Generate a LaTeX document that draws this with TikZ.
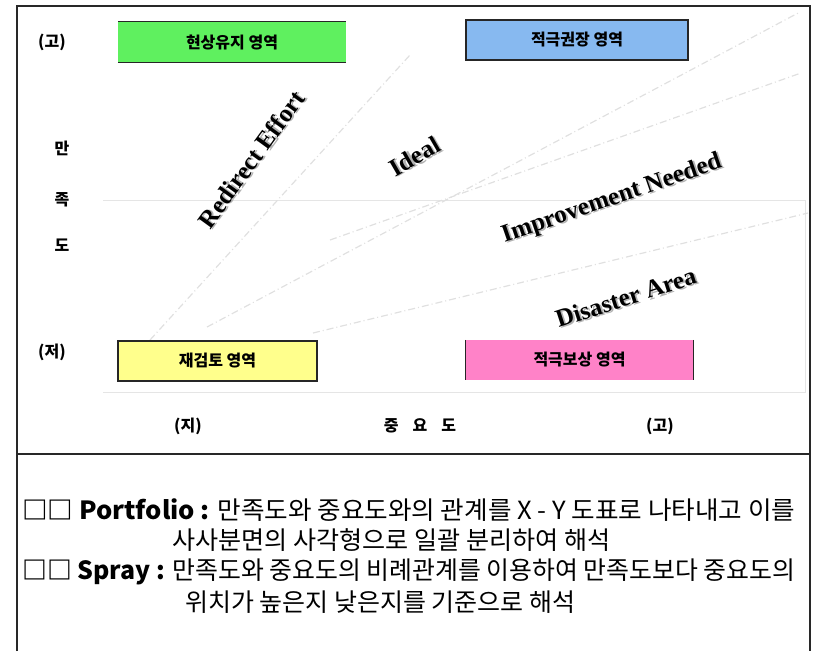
\documentclass[tikz,border=0pt]{standalone}
\usepackage{fontspec}
\usepackage{graphicx}
\setmainfont{Liberation Serif}
\newfontfamily\kr{Noto Sans CJK KR}
\definecolor{zgreen}{RGB}{95,240,95}
\definecolor{zblue}{RGB}{135,185,240}
\definecolor{zyellow}{RGB}{255,255,140}
\definecolor{zpink}{RGB}{255,130,200}
\definecolor{frameline}{RGB}{40,40,40}
\tikzset{
  frame/.style={draw=frameline, line width=1.6pt},
  faintbox/.style={draw=black!10, line width=1pt},
  faintline/.style={draw=black!12, line width=1.2pt, dash pattern=on 7pt off 3pt on 1pt off 3pt},
  zone/.style={inner sep=0pt, minimum height=40pt, font=\kr\bfseries\fontsize{16}{16}\selectfont},
  zoneborder/.style={draw=black!85, line width=1.1pt},
  axislabel/.style={inner sep=0pt, font=\kr\bfseries\fontsize{16}{16}\selectfont},
  region/.style={inner sep=0pt, font=\bfseries\fontsize{25}{25}\selectfont},
  note/.style={inner sep=0pt, anchor=west, font=\kr\fontsize{25}{25}\selectfont},
}
\newcommand{\fitw}[2]{\resizebox{#1}{\height}{#2}}
\newcommand{\shadowed}[1]{\makebox[0pt][l]{\hspace{1.6pt}\raisebox{-1.6pt}{\textcolor{black!30}{#1}}}#1}
\begin{document}
\begin{tikzpicture}[x=1pt,y=-1pt]
\useasboundingbox (0,0) rectangle (816,651);
% faint plot lines
\draw[faintbox] (103,200) -- (805,200) -- (805,392) -- (103,392);
\coordinate (l1a) at (150,340); \coordinate (l1b) at (410,55);
\coordinate (l2a) at (207,327); \coordinate (l2b) at (800,12);
\coordinate (l3a) at (313,333); \coordinate (l3b) at (808,213);
\coordinate (l4a) at (330,240); \coordinate (l4b) at (801,73);
\draw[faintline] (l1a) -- (l1b);
\draw[faintline] (l2a) -- (l2b);
\draw[faintline] (l3a) -- (l3b);
\draw[faintline] (l4a) -- (l4b);
% frame
\coordinate (ftl) at (17,6); \coordinate (ftr) at (810,6);
\coordinate (fbl) at (17,651); \coordinate (fbr) at (810,651);
\coordinate (dl) at (17,454); \coordinate (dr) at (810,454);
\draw[frame] (fbl) -- (ftl) -- (ftr) -- (fbr);
\draw[frame] (dl) -- (dr);
% zone boxes
\node[zone, fill=zgreen, minimum width=228pt] (g) at (232,42) {현상유지 영역};
\draw[zoneborder] (g.north west) -- (g.north east);
\draw[zoneborder] (g.south west) -- (g.south east);
\node[zone, fill=zblue, zoneborder, minimum width=222pt] (b) at (577,40) {적극권장 영역};
\node[zone, fill=zyellow, zoneborder, minimum width=199pt] (y) at (217.5,361) {재검토 영역};
\node[zone, fill=zpink, minimum width=227pt] (p) at (579.5,360) {적극보상 영역};
\draw[zoneborder] (p.north west) -- (p.south west);
\draw[zoneborder] (p.north east) -- (p.south east);
% axis labels
\node[axislabel] (yhi) at (52,42) {(고)};
\node[axislabel] (y1) at (62,148) {만};
\node[axislabel] (y2) at (62,200) {족};
\node[axislabel] (y3) at (62,245) {도};
\node[axislabel] (ylo) at (52,352) {(저)};
\node[axislabel] (xlo) at (188,426) {(지)};
\node[axislabel] (xmid) at (420,426) {중\hspace{14pt}요\hspace{14pt}도};
\node[axislabel] (xhi) at (660,426) {(고)};
% region labels
\node[region, rotate=54] (re) at (252,160) {\shadowed{Redirect Effort}};
\node[region, rotate=30] (id) at (415,157) {\shadowed{Ideal}};
\node[region, rotate=19] (im) at (612,200) {\shadowed{Improvement Needed}};
\node[region, rotate=18] (da) at (626,298) {\shadowed{Disaster Area}};
% notes
\node[note] (n1) at (22,510) {\fitw{773pt}{\bfseries □□ Portfolio :\mdseries{} 만족도와 중요도와의 관계를 X - Y 도표로 나타내고 이를}};
\node[note] (n2) at (172,540) {\fitw{438pt}{사사분면의 사각형으로 일괄 분리하여 해석}};
\node[note] (n3) at (22,572) {\fitw{773pt}{\bfseries □□ Spray :\mdseries{} 만족도와 중요도의 비례관계를 이용하여 만족도보다 중요도의}};
\node[note] (n4) at (185,602) {\fitw{390pt}{위치가 높은지 낮은지를 기준으로 해석}};
\end{tikzpicture}
\end{document}
